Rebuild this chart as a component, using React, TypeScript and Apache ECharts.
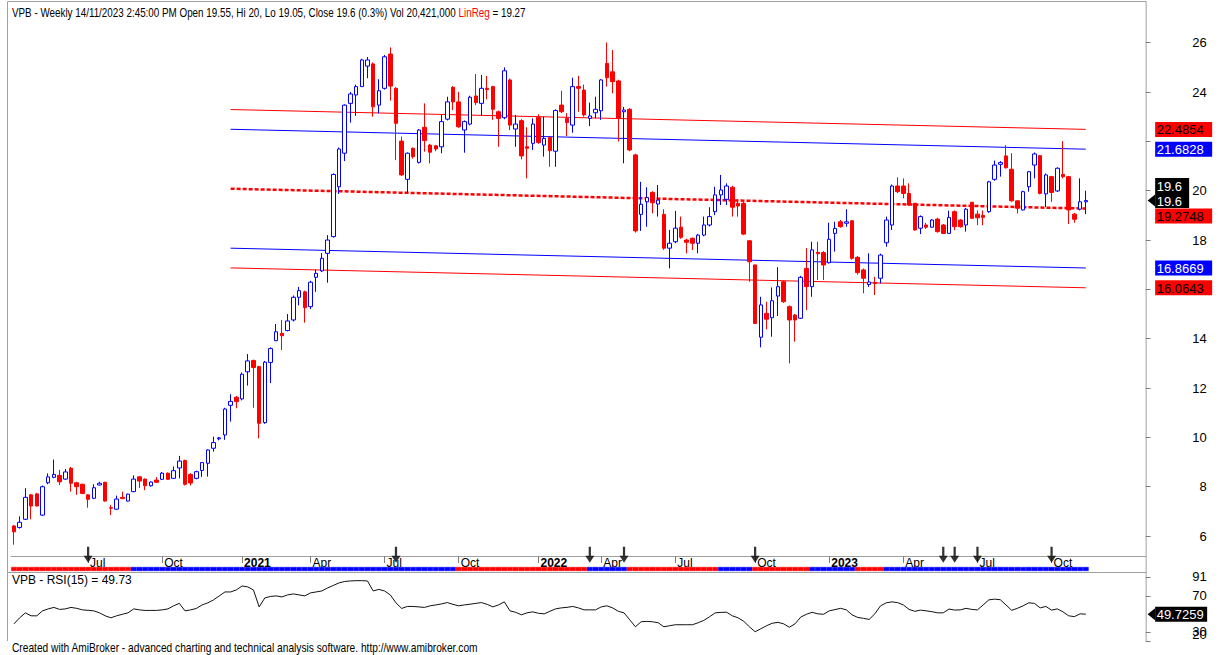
import React, { useEffect, useRef } from "react";
import * as echarts from "echarts";

// ---------------- data ----------------
const TICKER = "VPB";
const FIRST_BAR = "2020-04-03";
const NO_TRADING_WEEKS = ["2022-02-04"]; // Tet week, market closed
const BAR_DATE_FIX: Record<string, string> = { "2021-01-01": "2020-12-31" };
const BLANK_BARS = 10;
const LAST_BAR_TEXT = "14/11/2023 2:45:00 PM";
const LAST_VOLUME = "20,421,000";

const opens = [
  6.41, 6.35, 6.68, 7.67, 7.71, 6.85, 8.16, 8.38, 8.46, 8.31,
  8.75, 8.16, 8.1, 7.67, 7.53, 8.07, 8.18, 7.15, 7.09, 7.57,
  7.42, 7.8, 8.4, 8.31, 8.04, 8.27, 8.3, 8.55, 8.34, 8.76,
  9.06, 8.5, 8.34, 8.66, 8.95, 9.56, 9.94, 10.1, 11.3, 11.63,
  11.56, 12.66, 13.12, 12.87, 10.6, 13.04, 13.92, 14.22, 14.33, 14.76,
  15.68, 15.9, 15.3, 16.49, 16.75, 17.46, 18.14, 20.16, 21.52, 23.54,
  23.88, 24.22, 25.05, 25.14, 23.47, 24.15, 25.54, 24.15, 22.01, 20.46,
  21.72, 21.15, 22.57, 21.85, 21.82, 21.78, 22.9, 24.19, 23.6, 22.46,
  22.7, 23.84, 23.54, 24.15, 24.22, 23.2, 22.96, 24.49, 22.5, 22.84,
  21.78, 21.92, 22.97, 21.85, 22.16, 21.6, 23.47, 22.93, 22.66, 24.22,
  24.08, 22.93, 23.16, 23.24, 25.16, 24.82, 24.45, 23.2, 23.3, 21.45,
  19.04, 19.55, 19.93, 19.46, 19.04, 17.67, 17.93, 18.52, 18.0, 18.07,
  17.87, 18.2, 18.61, 19.15, 19.83, 19.65, 20.14, 19.49, 19.49, 17.97,
  16.99, 14.06, 15.03, 14.85, 15.73, 16.31, 15.3, 14.96, 14.83, 16.85,
  16.11, 17.5, 17.49, 17.08, 18.27, 18.74, 18.68, 18.78, 17.3, 16.79,
  16.2, 16.27, 16.45, 17.89, 18.61, 20.19, 20.19, 19.89, 19.49, 18.48,
  18.61, 18.52, 18.85, 18.61, 18.27, 19.15, 18.81, 18.61, 19.53, 19.05,
  19.0, 19.15, 20.46, 21.07, 21.41, 20.87, 19.59, 19.22, 20.16, 21.04,
  21.42, 19.87, 20.57, 19.99, 20.66, 20.57, 19.05, 19.25, 19.55,
];
const highs = [
  6.45, 6.8, 7.94, 7.7, 7.75, 8.05, 8.54, 9.1, 8.68, 8.72,
  8.8, 8.2, 8.12, 7.7, 8.1, 8.2, 8.2, 7.26, 7.64, 7.8,
  7.72, 8.46, 8.42, 8.33, 8.22, 8.39, 8.6, 8.58, 8.82, 9.25,
  9.1, 8.55, 8.65, 9.0, 9.52, 10.03, 10.02, 11.2, 11.75, 11.68,
  12.63, 13.38, 13.15, 12.9, 13.1, 13.65, 14.6, 14.76, 15.0, 15.75,
  16.1, 15.95, 16.35, 16.8, 17.47, 18.2, 20.7, 21.75, 23.5, 24.0,
  24.3, 25.35, 25.42, 25.2, 24.52, 25.5, 25.81, 24.2, 22.19, 21.55,
  21.75, 22.5, 23.54, 21.9, 21.85, 23.07, 23.81, 24.24, 24.01, 22.85,
  23.85, 24.73, 24.69, 24.65, 24.25, 23.25, 25.0, 24.55, 23.07, 22.9,
  22.57, 22.93, 23.1, 23.0, 22.2, 23.3, 24.05, 23.14, 24.58, 24.66,
  24.3, 23.57, 23.81, 24.52, 26.01, 25.7, 24.5, 23.4, 23.35, 21.5,
  20.36, 20.14, 19.98, 20.23, 19.25, 18.41, 19.18, 18.95, 18.05, 18.1,
  18.25, 18.95, 19.33, 20.16, 20.64, 20.3, 20.2, 19.65, 19.55, 18.0,
  17.0, 15.7, 15.5, 16.08, 16.9, 16.35, 15.35, 15.0, 16.55, 17.67,
  17.93, 17.93, 17.55, 18.7, 18.74, 18.81, 19.25, 18.8, 17.35, 16.85,
  17.46, 16.51, 17.45, 18.95, 20.25, 20.54, 20.5, 20.3, 19.5, 19.0,
  18.7, 18.85, 18.9, 18.65, 19.19, 19.2, 18.85, 19.3, 19.55, 19.2,
  19.2, 20.4, 21.22, 21.2, 21.85, 21.52, 19.6, 20.0, 20.8, 21.55,
  21.45, 20.7, 20.6, 20.95, 22.01, 20.6, 19.1, 20.5, 20.0,
];
const lows = [
  5.65, 6.3, 6.65, 6.68, 7.2, 6.82, 8.1, 8.35, 8.07, 8.28,
  7.8, 7.67, 7.7, 7.15, 7.5, 8.05, 7.4, 6.85, 7.07, 7.5,
  7.4, 7.78, 7.95, 7.86, 8.0, 8.15, 8.28, 8.28, 8.32, 8.34,
  8.05, 8.05, 8.3, 8.4, 8.41, 9.42, 9.88, 9.9, 10.64, 11.18,
  11.5, 12.1, 11.2, 9.96, 10.55, 12.2, 13.9, 13.54, 14.3, 14.7,
  15.35, 14.65, 15.2, 15.9, 16.7, 16.27, 18.1, 19.87, 21.2, 22.76,
  23.03, 24.2, 24.56, 23.0, 23.14, 24.1, 23.65, 21.24, 20.6, 19.9,
  21.3, 21.1, 21.58, 21.11, 21.6, 21.52, 22.85, 23.27, 22.55, 21.54,
  22.65, 23.47, 23.03, 23.7, 22.87, 21.78, 22.9, 22.46, 21.78, 21.27,
  20.5, 21.65, 21.9, 21.38, 20.97, 20.97, 23.15, 22.22, 22.35, 23.2,
  23.0, 22.62, 22.93, 22.87, 24.22, 23.95, 21.99, 21.11, 21.6, 18.3,
  18.37, 18.54, 19.08, 18.95, 17.6, 16.85, 17.87, 18.05, 17.46, 17.6,
  17.46, 18.15, 18.55, 19.01, 19.42, 19.42, 18.95, 18.95, 18.2, 16.31,
  14.6, 13.65, 14.38, 14.08, 14.92, 15.45, 13.0, 13.88, 14.8, 15.16,
  15.7, 16.38, 16.38, 17.05, 17.53, 18.5, 18.54, 17.2, 16.6, 15.84,
  16.1, 15.77, 16.24, 17.73, 18.41, 19.9, 19.69, 19.4, 18.38, 18.24,
  18.45, 18.5, 18.3, 18.25, 18.25, 18.4, 18.5, 18.34, 18.85, 18.6,
  18.6, 19.1, 20.4, 20.57, 20.9, 19.55, 19.08, 19.2, 19.96, 20.5,
  19.85, 19.33, 19.55, 19.95, 20.5, 18.65, 18.7, 19.2, 19.05,
];
const closes = [
  6.17, 6.56, 7.57, 7.22, 7.22, 8.0, 8.4, 8.5, 8.2, 8.6,
  8.14, 8.0, 7.73, 7.49, 7.96, 8.14, 7.42, 7.13, 7.5, 7.52,
  7.7, 8.31, 8.23, 8.04, 8.19, 8.18, 8.55, 8.3, 8.65, 9.04,
  8.1, 8.15, 8.61, 8.98, 9.49, 9.79, 9.98, 11.15, 11.46, 11.45,
  12.56, 13.1, 12.83, 10.57, 13.05, 13.6, 14.28, 14.12, 14.72, 15.68,
  15.95, 15.26, 16.29, 16.65, 17.26, 18.0, 20.66, 21.69, 23.47, 23.92,
  24.22, 25.3, 25.3, 23.4, 24.05, 25.43, 24.24, 22.73, 20.64, 21.52,
  21.38, 22.46, 22.03, 21.56, 21.69, 22.8, 23.6, 23.6, 22.59, 22.8,
  23.79, 23.57, 24.15, 24.1, 23.3, 22.93, 24.86, 22.66, 22.7, 21.41,
  21.72, 22.7, 21.95, 22.12, 21.62, 23.25, 23.2, 22.76, 24.22, 24.15,
  23.07, 23.03, 23.3, 24.49, 24.58, 24.42, 22.93, 23.27, 21.65, 18.37,
  19.45, 19.72, 19.51, 19.62, 17.67, 17.87, 18.48, 18.11, 17.91, 17.87,
  18.2, 18.61, 18.95, 19.83, 20.03, 20.19, 19.33, 19.38, 18.24, 17.12,
  14.62, 15.37, 14.79, 15.54, 16.11, 15.5, 14.76, 14.76, 16.49, 16.11,
  17.6, 17.45, 16.99, 18.03, 18.47, 18.54, 18.74, 17.26, 16.68, 16.45,
  16.3, 16.24, 17.39, 18.81, 20.19, 19.96, 19.89, 19.42, 18.41, 18.95,
  18.52, 18.81, 18.34, 18.27, 18.91, 18.54, 18.54, 19.25, 18.88, 18.9,
  18.92, 20.36, 21.04, 21.14, 20.93, 19.59, 19.29, 19.96, 20.77, 21.49,
  19.89, 20.64, 19.93, 20.91, 20.57, 19.22, 18.84, 19.55, 19.6,
];
const rsi15 = [
  39, 45.7, 51.2, 47.9, 47.9, 53.4, 55.6, 57.2, 55, 55.6,
  57.2, 56.2, 54.5, 54, 53.4, 51.2, 47.9, 45.7, 47.9, 49.6,
  51.2, 55.6, 54.5, 53.9, 53.9, 53.9, 54.5, 55.6, 59, 61.7,
  53.4, 54.5, 56.1, 60, 62.3, 65.6, 70, 74.4, 74.4, 76.6,
  81, 80, 76.6, 57.8, 67.8, 69.4, 70, 68.9, 71.1, 72.2,
  71.1, 70, 73.3, 74.4, 75.5, 78.8, 81.6, 84.4, 86, 86.6,
  86.9, 86.9, 86.6, 75.5, 77.2, 75.5, 71.1, 62.3, 56.1, 58.3,
  58.3, 57.8, 57.2, 59, 60, 61.1, 62.6, 60.6, 59, 60,
  60.8, 61.7, 62.6, 60.6, 57.8, 60, 63.4, 53.4, 51.8, 49,
  51.2, 52.3, 50.7, 50.1, 52.9, 55.6, 56.7, 57.3, 58.3, 56.7,
  54.5, 54.5, 54.5, 57.8, 59, 56.7, 52.9, 51.2, 43.5, 35.7,
  41.3, 41.7, 41.3, 40.2, 35.7, 36.9, 38, 38, 38, 38,
  40.2, 42.9, 46.8, 51.2, 51.7, 51.9, 47.9, 45.7, 41.8, 35.7,
  30.2, 33.5, 36.9, 39.6, 40.7, 39, 35.2, 39, 46.5, 49.6,
  51.8, 50.1, 49.6, 53.4, 54.8, 56.2, 54.5, 49, 46.1, 45.1,
  43.9, 50.1, 59, 62.3, 63.4, 62.5, 60, 55, 52.9, 54.2,
  53.4, 52.5, 51.2, 51.2, 55.4, 54.3, 54.5, 56.2, 55, 54.5,
  60, 65.6, 66.4, 65.8, 60, 54, 56.2, 59, 62.3, 61.7,
  56.7, 58.3, 54.2, 55.6, 52.3, 47.9, 47, 50.1, 49.7259,
];

// Linear regression channel: [bar index from, bar index to] and values at both ends
const regBars = [38, 188];
const regMid = [20.08, 19.2748];
const regUpperBlue = [22.49, 21.6828];
const regLowerBlue = [17.67, 16.8669];
const regUpperRed = [23.29, 22.4854];
const regLowerRed = [16.87, 16.0643];

const signalBars = [13, 67, 101, 107, 130, 163, 165, 169, 182];

// ribbon under the date axis: runs of bars [first, last] (1-based), 1 = blue, 0 = red
const ribbonRuns = [
  [1, 21, 0], [22, 78, 1], [79, 101, 0], [102, 108, 1], [109, 124, 0],
  [125, 130, 1], [131, 140, 0], [141, 148, 1], [149, 153, 0], [154, 189, 1],
];

const priceTicks = [6, 8, 10, 12, 14, 16, 18, 20, 22, 24, 26];
const priceLabels = [6, 8, 10, 12, 14, 18, 20, 24, 26]; // 16 and 22 sit under the value boxes
const rsiTicks = [20, 30, 70, 91];
const rsiAxisLabels = [30, 70, 91];
const rsiFloorLabel = 20;
const MONTHS = ["Jan", "Feb", "Mar", "Apr", "May", "Jun", "Jul", "Aug", "Sep", "Oct", "Nov", "Dec"];

// ---------------- layout / styles ----------------
const W = 1222;
const H = 655;
const GRID_LEFT = 11.15;
const AXIS_X = 1145.65;
const PRICE_TOP = 8;
const PRICE_BOTTOM = 556;
const PRICE_MIN = 5.192;
const PRICE_MAX = 27.406;
const RIBBON_TOP = 567;
const RIBBON_H = 4;
const RSI_TOP = 573;
const RSI_BOTTOM = 641;
const RSI_MIN = 19.95;
const RSI_MAX = 95.42;
const ARROW_LEVEL = 5.24;
const FONT = "'Liberation Sans', Arial, sans-serif";
const BLUE = "#0000ff";
const RED = "#ff0000";
const FRAME = "#a0a0a0";
const LABEL_RIGHT = AXIS_X + 61;

function buildDates(n: number): string[] {
  const out: string[] = [];
  let t = Date.parse(FIRST_BAR + "T00:00:00Z");
  while (out.length < n) {
    const s = new Date(t).toISOString().slice(0, 10);
    if (!NO_TRADING_WEEKS.includes(s)) out.push(BAR_DATE_FIX[s] || s);
    t += 7 * 86400000;
  }
  return out;
}

export default function App() {
  const ref = useRef<HTMLDivElement>(null);

  useEffect(() => {
    const n = closes.length;
    const dates = buildDates(n);
    const cats = dates.concat(Array.from({ length: BLANK_BARS }, (_, i) => " ".repeat(i + 1)));
    const tickFlags = cats.map((d, i) => {
      if (i === 0 || i >= n) return false;
      const m = Number(d.slice(5, 7)) - 1;
      const pm = Number(cats[i - 1].slice(5, 7)) - 1;
      return m !== pm && m % 3 === 0;
    });

    const ribbonColor: string[] = [];
    ribbonRuns.forEach(([a, b, c]) => {
      for (let i = a; i <= b; i++) ribbonColor[i - 1] = c ? BLUE : RED;
    });

    const chart = echarts.init(ref.current!, null, { renderer: "svg" });
    const gridW = AXIS_X - GRID_LEFT;

    const regLine = (vals: number[], color: string, dotted = false) => ({
      type: "line",
      xAxisIndex: 0,
      yAxisIndex: 0,
      data: [
        [regBars[0], vals[0]],
        [regBars[1], vals[1]],
      ],
      symbol: "none",
      silent: true,
      z: 3,
      lineStyle: dotted ? { color, width: 2.5, type: [4, 2] } : { color, width: 1 },
    });

    const option: any = {
      animation: false,
      backgroundColor: "#ffffff",
      textStyle: { fontFamily: FONT },
      grid: [
        { left: GRID_LEFT, width: gridW, top: PRICE_TOP, height: PRICE_BOTTOM - PRICE_TOP },
        { left: GRID_LEFT, width: gridW, top: RSI_TOP, height: RSI_BOTTOM - RSI_TOP },
        { left: GRID_LEFT, width: gridW, top: RIBBON_TOP, height: RIBBON_H },
      ],
      xAxis: [
        {
          type: "category",
          gridIndex: 0,
          data: cats,
          boundaryGap: true,
          axisLine: { show: true, lineStyle: { color: FRAME, width: 1 } },
          axisTick: {
            show: true,
            alignWithLabel: true,
            interval: (i: number) => tickFlags[i],
            length: 7,
            lineStyle: { color: "#808080" },
          },
          axisLabel: {
            interval: (i: number) => tickFlags[i],
            formatter: (v: string) => {
              const m = Number(v.slice(5, 7)) - 1;
              return m === 0 ? "{y|" + v.slice(0, 4) + "}" : "{m|" + MONTHS[m] + "}";
            },
            align: "left",
            margin: 1,
            rich: {
              y: { fontWeight: "bold", fontSize: 12, color: "#000", fontFamily: FONT, padding: [0, 0, 0, 2] },
              m: { fontSize: 12, color: "#000", fontFamily: FONT, padding: [0, 0, 0, 2] },
            },
          },
          splitLine: { show: false },
        },
        { type: "category", gridIndex: 1, data: cats, boundaryGap: true, show: false },
        { type: "category", gridIndex: 2, data: cats, boundaryGap: true, show: false },
      ],
      yAxis: [
        {
          type: "value",
          gridIndex: 0,
          position: "right",
          min: PRICE_MIN,
          max: PRICE_MAX,
          axisLine: { show: false },
          splitLine: { show: false },
          axisTick: { show: true, customValues: priceTicks, length: 5, lineStyle: { color: "#808080" } },
          axisLabel: {
            customValues: priceLabels,
            color: "#000",
            fontSize: 13,
            fontFamily: FONT,
            align: "right",
            margin: 61,
          },
        },
        {
          type: "value",
          gridIndex: 1,
          position: "right",
          min: RSI_MIN,
          max: RSI_MAX,
          axisLine: { show: false },
          splitLine: { show: false },
          axisTick: { show: true, customValues: rsiTicks, length: 5, lineStyle: { color: "#808080" } },
          axisLabel: {
            customValues: rsiAxisLabels,
            color: "#000",
            fontSize: 13,
            fontFamily: FONT,
            align: "right",
            margin: 61,
          },
        },
        { type: "value", gridIndex: 2, min: 0, max: 1, show: false },
      ],
      series: [
        regLine(regUpperRed, RED),
        regLine(regLowerRed, RED),
        regLine(regUpperBlue, BLUE),
        regLine(regLowerBlue, BLUE),
        regLine(regMid, RED, true),
        {
          type: "candlestick",
          xAxisIndex: 0,
          yAxisIndex: 0,
          barWidth: 4,
          z: 4,
          data: opens.map((o, i) => [o, closes[i], lows[i], highs[i]]),
          itemStyle: {
            color: "#ffffff",
            color0: RED,
            borderColor: BLUE,
            borderColor0: RED,
            borderWidth: 1,
          },
        },
        {
          type: "scatter",
          xAxisIndex: 0,
          yAxisIndex: 0,
          clip: false,
          z: 6,
          symbol: "path://M3,0 L5,0 L5,9 L8,9 L4,16 L0,9 L3,9 Z",
          symbolSize: [9, 16],
          itemStyle: { color: "#000" },
          data: signalBars.map((i) => [i, ARROW_LEVEL]),
        },
        {
          type: "line",
          xAxisIndex: 1,
          yAxisIndex: 1,
          data: rsi15,
          symbol: "none",
          lineStyle: { color: "#111", width: 1 },
        },
        {
          type: "bar",
          xAxisIndex: 2,
          yAxisIndex: 2,
          barCategoryGap: "0%",
          silent: true,
          data: ribbonColor.map((c) => ({ value: 1, itemStyle: { color: c, borderColor: c, borderWidth: 0.4 } })),
        },
      ],
    };

    chart.setOption(option);

    const py = (v: number) => chart.convertToPixel({ yAxisIndex: 0 } as any, v) as number;
    const ry = (v: number) => chart.convertToPixel({ yAxisIndex: 1 } as any, v) as number;

    const BOX_H = 15;
    const boxX = AXIS_X + 9.5;
    const box = (yc: number, text: string, bg: string, fg: string, w: number, pointer: boolean) => {
      const children: any[] = [
        { type: "rect", shape: { x: boxX, y: yc - BOX_H / 2, width: w, height: BOX_H }, style: { fill: bg } },
        {
          type: "text",
          x: boxX + 1.5,
          y: yc + 0.5,
          style: { text, fill: fg, font: "13px " + FONT, align: "left", verticalAlign: "middle" },
        },
      ];
      if (pointer) {
        children.push({
          type: "polygon",
          shape: { points: [[AXIS_X + 2, yc], [boxX, yc - 6], [boxX, yc + 6]] },
          style: { fill: bg },
        });
      }
      return { type: "group", children };
    };

    const last = n - 1;
    const lastClose = closes[last];
    const closeY = py(lastClose);
    const pct = ((lastClose / closes[last - 1] - 1) * 100).toFixed(1);

    const labels: any[] = [];
    labels.push(box(py(regUpperRed[1]), regUpperRed[1].toFixed(4), RED, "#000", 57, false));
    labels.push(box(py(regUpperBlue[1]), regUpperBlue[1].toFixed(4), BLUE, "#fff", 57, false));
    labels.push(box(closeY - BOX_H, String(lastClose), "#000", "#fff", 34, false));
    labels.push(box(closeY, String(lastClose), "#000", "#fff", 34, true));
    const midY = Math.max(py(regMid[1]), closeY + BOX_H + 0.5);
    labels.push(box(midY, regMid[1].toFixed(4), RED, "#000", 57, false));
    labels.push(box(py(regLowerBlue[1]), regLowerBlue[1].toFixed(4), BLUE, "#fff", 57, false));
    labels.push(box(py(regLowerRed[1]), regLowerRed[1].toFixed(4), RED, "#000", 57, false));
    labels.push(box(ry(rsi15[last]), rsi15[last].toFixed(4), "#000", "#fff", 52, true));

    // bottom RSI scale label, kept inside the pane (its text bottom sits on the pane edge)
    labels.push({
      type: "text",
      x: LABEL_RIGHT,
      y: ry(rsiFloorLabel),
      style: {
        text: String(rsiFloorLabel),
        fill: "#000",
        font: "13px " + FONT,
        align: "right",
        verticalAlign: "bottom",
      },
    });

    const header =
      `${TICKER} - Weekly ${LAST_BAR_TEXT} Open ${opens[last]}, Hi ${highs[last]}, Lo ${lows[last]}, ` +
      `Close ${lastClose} (${pct}%) Vol ${LAST_VOLUME} `;

    const frame = (x1: number, y1: number, x2: number, y2: number) => ({
      type: "line",
      shape: { x1, y1, x2, y2 },
      style: { stroke: FRAME, lineWidth: 1 },
      silent: true,
    });

    const graphic: any[] = [
      frame(7.5, 1.5, 7.5, RSI_BOTTOM),
      frame(7.5, 1.5, AXIS_X + 0.5, 1.5),
      frame(AXIS_X + 0.5, 1.5, AXIS_X + 0.5, RSI_BOTTOM),
      frame(7.5, 572.5, AXIS_X + 0.5, 572.5),
      {
        type: "text",
        x: 12,
        y: 13,
        scaleX: 0.82,
        style: {
          text: `{a|${header}}{r|LinReg}{a| = ${regMid[1].toFixed(2)}}`,
          font: "12px " + FONT,
          verticalAlign: "middle",
          rich: {
            a: { fill: "#000", font: "12px " + FONT },
            r: { fill: RED, font: "12px " + FONT },
          },
        },
      },
      {
        type: "text",
        x: 12,
        y: 580,
        style: {
          text: `${TICKER} - RSI(15) = ${rsi15[last].toFixed(2)}`,
          font: "12px " + FONT,
          fill: "#000",
          verticalAlign: "middle",
        },
      },
      {
        type: "text",
        x: 12,
        y: 648,
        scaleX: 0.85,
        style: {
          text: "Created with AmiBroker - advanced charting and technical analysis software. http://www.amibroker.com",
          font: "12px " + FONT,
          fill: "#000",
          verticalAlign: "middle",
        },
      },
      ...labels,
    ];

    chart.setOption({ graphic });

    return () => chart.dispose();
  }, []);

  return (
    <div
      ref={ref}
      style={{ position: "fixed", left: 0, top: 0, width: W, height: H, background: "#fff" }}
    />
  );
}
